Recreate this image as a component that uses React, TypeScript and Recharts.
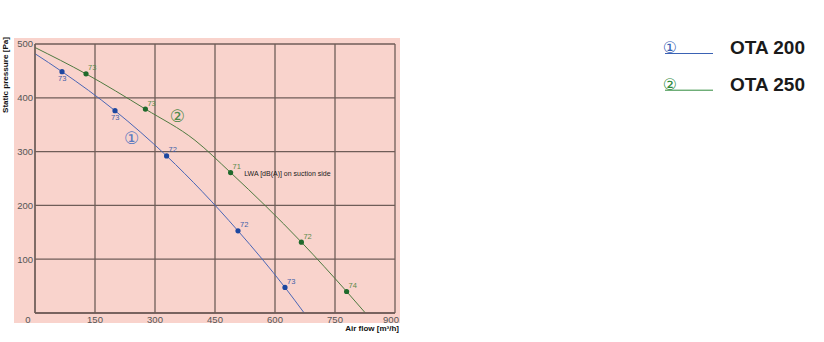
import React from "react";
import {
  ComposedChart,
  Line,
  Scatter,
  XAxis,
  YAxis,
  CartesianGrid,
  LabelList,
  ReferenceDot,
  Legend,
} from "recharts";

// ---- data ----
const xTicks = [0, 150, 300, 450, 600, 750, 900];
const yTicks = [100, 200, 300, 400, 500];

const seriesNames = ["OTA 200", "OTA 250"];
const seriesSymbols = ["\u2460", "\u2461"];

// OTA 200 (blue) curve
const ota200Flow = [0, 67.5, 200, 329, 507.5, 625, 673];
const ota200Pressure = [482, 448.6, 376, 292, 152.7, 47.5, 0];
// OTA 200 measured points with LWA
const ota200PtFlow = [67.5, 200, 329, 507.5, 625];
const ota200PtPressure = [448.6, 376, 292, 152.7, 47.5];
const ota200PtLwa = ["73", "73", "72", "72", "73"];

// OTA 250 (green) curve
const ota250Flow = [0, 127.5, 276, 400, 489, 666, 779, 826];
const ota250Pressure = [493.5, 444.5, 379, 321, 261, 131.7, 40, 0];
const ota250PtFlow = [127.5, 276, 489, 666, 779];
const ota250PtPressure = [444.5, 379, 261, 131.7, 40];
const ota250PtLwa = ["73", "73", "71", "72", "74"];

// annotations (data coordinates)
const curveTagFlow = [241.7, 355.7];
const curveTagPressure = [326, 367];
const noteText = "LWA [dB(A)] on suction side";
const noteFlow = 523;
const notePressure = 260;

const yTitle = "Static pressure [Pa]";
const xTitle = "Air flow [m\u00b3/h]";

// ---- styles ----
const FONT = "'Liberation Sans', Arial, Helvetica, sans-serif";
const SYMFONT = "'DejaVu Sans', 'Noto Sans', sans-serif";
const BLUE_LINE = "#4a66b6";
const BLUE_DOT = "#1d47a0";
const BLUE_TXT = "#3f5fa8";
const GREEN_LINE = "#4f7a40";
const GREEN_DOT = "#1f6a2c";
const GREEN_TXT = "#5a8a4a";
const GRID = "#6f5d58";
const PINK = "#f9d3cc";

const zip = (a: number[], b: number[]) => a.map((v, i) => ({ flow: v, pressure: b[i] }));
const ota200Curve = zip(ota200Flow, ota200Pressure);
const ota250Curve = zip(ota250Flow, ota250Pressure);
const ota200Pts = ota200PtFlow.map((v, i) => ({ flow: v, pressure: ota200PtPressure[i], lwa: ota200PtLwa[i] }));
const ota250Pts = ota250PtFlow.map((v, i) => ({ flow: v, pressure: ota250PtPressure[i], lwa: ota250PtLwa[i] }));

const XTick = (props: any) => {
  const { x, payload } = props;
  const v = payload.value;
  const dx = v === 0 ? -7 : v === 900 ? -4 : 0;
  return (
    <text x={x + dx} y={323} textAnchor="middle" fontSize={9.5} fontFamily={FONT} fill="#555">
      {v}
    </text>
  );
};

const YTick = (props: any) => {
  const { y, payload } = props;
  return (
    <text x={33} y={y + 3.3} textAnchor="end" fontSize={9.5} fontFamily={FONT} fill="#555">
      {payload.value}
    </text>
  );
};

const makeLabel = (color: string, belowFirst: number) => (props: any) => {
  const { x, y, width, height, value, index } = props;
  const cx = x + (width || 0) / 2;
  const cy = y + (height || 0) / 2;
  const below = index < belowFirst;
  return (
    <text
      x={below ? cx : cx + 2}
      y={below ? cy + 9.5 : cy - 3.5}
      textAnchor="start"
      dx={below ? -4 : 0}
      fontSize={7.5}
      fontFamily={FONT}
      fill={color}
    >
      {value}
    </text>
  );
};

const dotShape = (color: string) => (props: any) => (
  <circle cx={props.cx} cy={props.cy} r={2.6} fill={color} />
);

const LegendContent = () => (
  <svg width={174} height={70} style={{ display: "block" }}>
    {seriesNames.map((name, i) => {
      const color = i === 0 ? "#3a62b4" : "#2f8a3c";
      const base = 24 + i * 36.7;
      return (
        <g key={name}>
          <text x={20} y={base - 1} textAnchor="middle" fontSize={16} fontFamily={SYMFONT} fill={color}>
            {seriesSymbols[i]}
          </text>
          <line x1={15} x2={63} y1={base - 0.5} y2={base - 0.5} stroke={color} strokeWidth={1} />
          <text x={80} y={base} fontSize={19} fontWeight="bold" fontFamily={FONT} fill="#1a1a1a">
            {name}
          </text>
        </g>
      );
    })}
  </svg>
);

export default function App() {
  return (
    <div style={{ position: "absolute", left: 0, top: 0, width: 824, height: 342, background: "#fff" }}>
      <div style={{ position: "absolute", left: 14, top: 38, width: 386, height: 285, background: PINK }} />
      <div style={{ position: "absolute", left: 0, top: 0 }}>
        <ComposedChart width={824} height={342} margin={{ top: 44, right: 429, bottom: 0, left: 0 }}>
          <CartesianGrid stroke={GRID} strokeWidth={1.3} />
          <XAxis
            type="number"
            dataKey="flow"
            domain={[0, 900]}
            ticks={xTicks}
            allowDataOverflow
            height={29}
            tickLine={false}
            tickSize={0}
            tickMargin={0}
            axisLine={{ stroke: GRID, strokeWidth: 1.3 }}
            tick={<XTick />}
            interval={0}
            label={{
              content: (p: any) => {
                const vb = p.viewBox;
                return (
                  <text
                    x={vb.x + vb.width + 4}
                    y={vb.y + 18}
                    textAnchor="end"
                    fontSize={8}
                    fontWeight="bold"
                    fontFamily={FONT}
                    fill="#111"
                  >
                    {xTitle}
                  </text>
                );
              },
            }}
          />
          <YAxis
            type="number"
            dataKey="pressure"
            domain={[0, 500]}
            ticks={yTicks}
            allowDataOverflow
            width={35}
            tickLine={false}
            tickSize={0}
            tickMargin={2}
            axisLine={{ stroke: GRID, strokeWidth: 1.3 }}
            tick={<YTick />}
            interval={0}
            label={{
              content: (p: any) => {
                const vb = p.viewBox;
                const cx = vb.x + 8;
                const cy = vb.y + 31;
                return (
                  <text
                    x={cx}
                    y={cy}
                    transform={`rotate(-90, ${cx}, ${cy})`}
                    textAnchor="middle"
                    fontSize={7.5}
                    fontWeight="bold"
                    fontFamily={FONT}
                    fill="#111"
                    textLength={76}
                    lengthAdjust="spacingAndGlyphs"
                  >
                    {yTitle}
                  </text>
                );
              },
            }}
          />
          <Line
            data={ota200Curve}
            dataKey="pressure"
            type="monotone"
            stroke={BLUE_LINE}
            strokeWidth={1}
            dot={false}
            activeDot={false}
            isAnimationActive={false}
            name={seriesNames[0]}
          />
          <Line
            data={ota250Curve}
            dataKey="pressure"
            type="monotone"
            stroke={GREEN_LINE}
            strokeWidth={1}
            dot={false}
            activeDot={false}
            isAnimationActive={false}
            name={seriesNames[1]}
          />
          <Scatter data={ota200Pts} dataKey="pressure" shape={dotShape(BLUE_DOT)} isAnimationActive={false}>
            <LabelList dataKey="lwa" content={makeLabel(BLUE_TXT, 2)} />
          </Scatter>
          <Scatter data={ota250Pts} dataKey="pressure" shape={dotShape(GREEN_DOT)} isAnimationActive={false}>
            <LabelList dataKey="lwa" content={makeLabel(GREEN_TXT, 0)} />
          </Scatter>
          {seriesSymbols.map((s, i) => (
            <ReferenceDot
              key={s}
              x={curveTagFlow[i]}
              y={curveTagPressure[i]}
              r={0}
              ifOverflow="visible"
              shape={(p: any) => (
                <text
                  x={p.cx}
                  y={p.cy + 6}
                  textAnchor="middle"
                  fontSize={17}
                  fontFamily={SYMFONT}
                  fill={i === 0 ? "#5a78bf" : "#4f8a4a"}
                >
                  {s}
                </text>
              )}
            />
          ))}
          <ReferenceDot
            x={noteFlow}
            y={notePressure}
            r={0}
            ifOverflow="visible"
            shape={(p: any) => (
              <text x={p.cx} y={p.cy + 2.5} textAnchor="start" fontSize={7} fontFamily={FONT} fill="#1a1a1a">
                {noteText}
              </text>
            )}
          />
          <Legend
            layout="horizontal"
            verticalAlign="middle"
            align="center"
            content={() => <LegendContent />}
            wrapperStyle={{ position: "absolute", left: 650, top: 30, width: 174, height: 70 }}
          />
        </ComposedChart>
      </div>
    </div>
  );
}
